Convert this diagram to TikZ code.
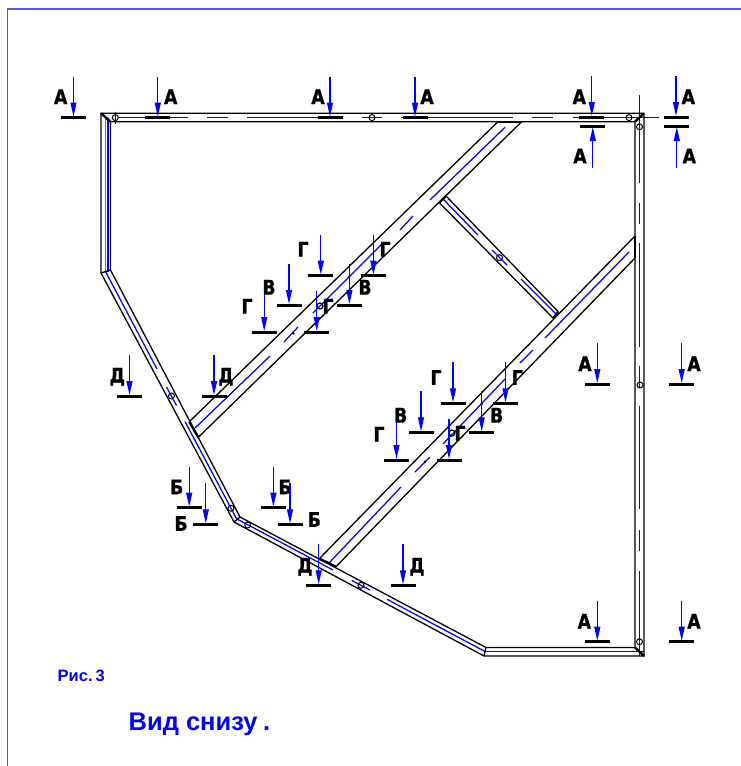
\documentclass[tikz,border=0pt]{standalone}
\usepackage{fontspec}
\setmainfont{Liberation Sans}
\newfontfamily\cadfont[FakeStretch=0.86,FakeBold=1.1]{DejaVu Sans Bold}
\usetikzlibrary{arrows.meta}
\definecolor{framecol}{RGB}{85,85,245}
\definecolor{cl}{RGB}{0,0,255}
\tikzset{
  member/.style={black,line width=1.3pt},
  joint/.style={black,line width=2.4pt},
  axis/.style={cl,line width=1.25pt},
  bolt/.style={black,line width=1pt,fill=none},
  secbar/.style={black,line width=3pt},
  secarrow/.style={cl,line width=1.25pt,-{Triangle[length=14pt,width=6pt]}},
  seclabel/.style={inner sep=0pt,text=black,font=\cadfont\fontsize{20}{20}\selectfont,text height=15pt,text depth=0pt},
  captext/.style={inner sep=0pt,anchor=base west,text=cl,font=\bfseries}
}
\newcounter{secn}
% bar centre x,y ; letter ; label x,y ; arrow comes from above
\newcommand{\secdown}[5]{%
  \stepcounter{secn}%
  \coordinate (bar\thesecn) at (#1,#2);
  \coordinate (tail\thesecn) at (#1,#2-41);
  \draw[secbar] ([xshift=-12.5pt]bar\thesecn) -- ([xshift=12.5pt]bar\thesecn);
  \draw[secarrow] (tail\thesecn) -- ([yshift=1pt]bar\thesecn);
  \node[seclabel] (lab\thesecn) at (#4,#5) {#3};
}
\newcommand{\secup}[5]{%
  \stepcounter{secn}%
  \coordinate (bar\thesecn) at (#1,#2);
  \coordinate (tail\thesecn) at (#1,#2+41.5);
  \draw[secbar] ([xshift=-12.5pt]bar\thesecn) -- ([xshift=12.5pt]bar\thesecn);
  \draw[secarrow] (tail\thesecn) -- ([yshift=-1pt]bar\thesecn);
  \node[seclabel] (lab\thesecn) at (#4,#5) {#3};
}
\begin{document}
\begin{tikzpicture}[x=1pt,y=-1pt]
\useasboundingbox (0,0) rectangle (741,766);
\fill[white] (0,0) rectangle (741,766);
% page frame
\draw[framecol,line width=1.9pt] (7.5,766) -- (7.5,8.8) -- (741,8.8);

% blue centre lines
\draw[axis] (119,117.5) -- (188,117.5) (207,117.5) -- (228,117.5) (247,117.5) -- (343,117.5)
  (362,117.5) -- (382,117.5) (401,117.5) -- (512.5,117.5) (532,117.5) -- (553,117.5) (572.5,117.5) -- (659,117.5);
\draw[axis] (639.7,95) -- (639.7,183) (639.7,203) -- (639.7,224) (639.7,243) -- (639.7,347)
  (639.7,366) -- (639.7,388) (639.7,406) -- (639.7,509) (639.7,530) -- (639.7,551) (639.7,571) -- (639.7,656);
\draw[axis] (108,117.5) -- (108,272);
\draw[black!55,line width=0.7pt] (105.5,118) -- (105.5,272);
\draw[axis] (485,651.7) -- (644,651.7);
\draw[axis] (105.5,271.5) -- (157,369) (166.5,387) -- (176.5,405.5) (185,421.5) -- (237,519.5);
\draw[axis] (237,519) -- (333,570) (351.7,580.5) -- (370,590) (387,599.3) -- (485,651.5);
% strut 1
\draw[axis] (505,127.3) -- (430,200) (413,216) -- (400,230) (383,243) -- (313,313) (298,327) -- (284,342) (270,356) -- (195,428);
% strut 2
\draw[axis] (629,252) -- (545,338) (533,350) -- (520,363) (505,379) -- (443,444) (430,457) -- (415,472) (401,487) -- (329,563);
% cross strut
\draw[axis] (443,199) -- (478,235) (492,250) -- (507,265) (521,279) -- (557,315);

% outer frame
\draw[member,line join=miter] (101,113.3) -- (644,113.3) -- (644,656) -- (484,656) -- (234,522) -- (101,273) -- cycle;
\draw[member,line join=miter] (110.5,121.7) -- (635,121.7) -- (635,647.5) -- (486,647.5) -- (240,517) -- (110.5,270) -- cycle;
\draw[member] (101,273) -- (110.5,270);
\draw[member] (484,656) -- (486,647.5);
\draw[member] (234,522) -- (240,517);
\draw[joint] (101,113.3) -- (110.5,121.7);
\draw[joint] (635,121.7) -- (644,113.3);
\draw[joint] (635,647.5) -- (644,656);

% strut 1
\draw[member] (498,121.7) -- (189.3,421.7);
\draw[member] (521.7,121.7) -- (198.3,437.3);
\draw[joint] (189.3,421.7) -- (198.3,437.3);
\draw[joint] (498,121.7) -- (521.7,121.7);
% strut 2
\draw[member] (635,236) -- (319.3,558.7);
\draw[member] (635,258) -- (336,566.7);
\draw[joint] (319.3,558.7) -- (336,566.7);
\draw[joint] (635,236) -- (635,258);
% cross strut
\draw[member] (446,196) -- (558.3,311.7);
\draw[member] (439.3,202.7) -- (553.3,318.3);
\draw[joint] (439.3,202.7) -- (446,196);
\draw[joint] (553.3,318.3) -- (558.3,311.7);

% bolts
\foreach \bx/\by in {115.3/117.6,372/117.6,629/117.6,639.5/126.7,640/385,639.5/641.7,499.5/257.7,171.5/396,231/508.3,247.7/525,361/585.3}
  \draw[bolt] (\bx,\by) circle[radius=3pt];
\draw[axis,line width=0.8pt] (115.3,111.5) -- (115.3,123.5);
\foreach \bx/\by in {320/306,452/433}
  \draw[bolt,line width=1.2pt] (\bx,\by) circle[radius=3pt];
\foreach \bx/\by in {293.3/333.3,425/461.7,349/277,481.7/404}
  \fill[black] (\bx,\by) circle[radius=1.4pt];

% section marks A
\secdown{73.5}{117.6}{А}{60.7}{96.5}
\secdown{157.8}{117.6}{А}{170.7}{96.5}
\secdown{330}{117.6}{А}{318}{96.5}
\secdown{415}{117.6}{А}{427}{96.5}
\secdown{591.8}{117}{А}{579.3}{96.5}
\secup{592.8}{126}{А}{580}{155.7}
\secdown{676}{117}{А}{688.3}{96.5}
\secup{676.8}{126}{А}{689.3}{155.7}
\secdown{597.3}{384}{А}{585}{363.5}
\secdown{681.7}{384}{А}{694}{363.5}
\secdown{597.3}{641.7}{А}{584.3}{621}
\secdown{681.7}{641.7}{А}{694}{621}
% Д
\secdown{129.5}{396}{Д}{117.3}{375}
\secdown{214}{396}{Д}{226}{375}
\secdown{318.7}{585.3}{Д}{305}{565}
\secdown{403}{585.3}{Д}{417}{565}
% Б
\secdown{189.2}{507.7}{Б}{176.7}{486.7}
\secdown{205.8}{524.3}{Б}{181}{523.3}
\secdown{273.4}{507.7}{Б}{285}{486.7}
\secdown{290}{524.3}{Б}{314.3}{519.3}
% В, Г upper group
\secdown{264.2}{332}{Г}{247}{306}
\secdown{289}{305}{В}{269}{287}
\secdown{320.8}{275.7}{Г}{303}{249}
\secdown{373.4}{275.7}{Г}{385}{249}
\secdown{349.4}{305}{В}{365}{287}
\secdown{316.7}{332}{Г}{328}{306}
% В, Г lower group
\secdown{396.5}{460}{Г}{379}{434}
\secdown{421}{432.3}{В}{400.7}{415}
\secdown{453}{403.3}{Г}{436}{377.3}
\secdown{505.5}{403.3}{Г}{517.3}{377.3}
\secdown{481.7}{432.3}{В}{496.7}{415}
\secdown{449}{460}{Г}{460}{433}

% captions
\node[captext,font=\bfseries\fontsize{16.5}{17}\selectfont] (fig) at (57.5,681) {Рис.\kern3pt 3};
\node[captext,font=\bfseries\fontsize{25.5}{26}\selectfont] (view) at (128.5,730.5) {Вид снизу\kern5.5pt .};
\end{tikzpicture}
\end{document}
